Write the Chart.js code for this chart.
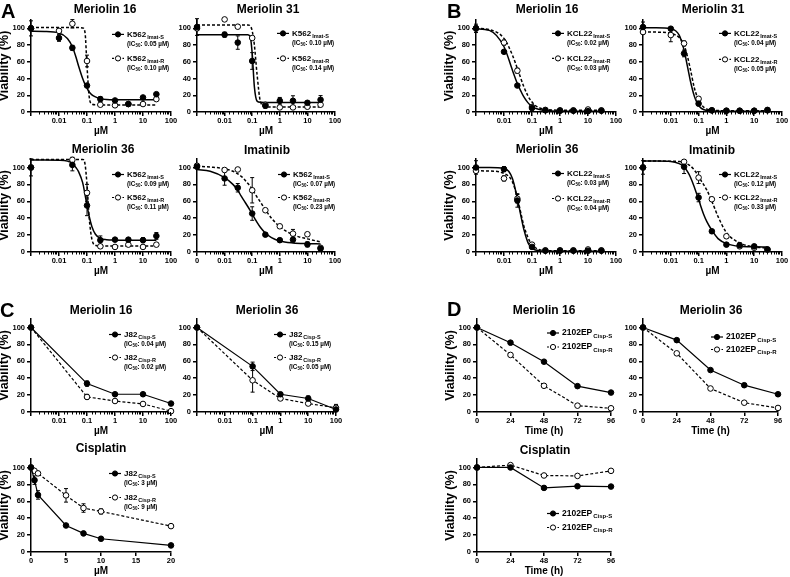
<!DOCTYPE html>
<html>
<head>
<meta charset="utf-8">
<script src="https://cdn.jsdelivr.net/npm/chart.js@4.4.0/dist/chart.umd.min.js"></script>
<style>
  body { margin: 0; background: #fff; width: 790px; height: 577px; position: relative; overflow: hidden;
         font-family: "Liberation Sans", Arial, sans-serif; font-weight: bold; color: #000; }
  canvas { position: absolute; }
  .t { position: absolute; white-space: nowrap; transform: translate(-50%, -50%); font-size: 12px; }
  .p { position: absolute; font-size: 20px; line-height: 20px; }
</style>
</head>
<body>
<script>
// ---------- data ----------
// panels A/B: concentrations in µM (0.001 = untreated control)
const doses = [0.001, 0.01, 0.03, 0.1, 0.3, 1, 3, 10, 30];
// x positions where the fitted curves were read
const fitDoses = [0.001, 0.003, 0.01, 0.02, 0.03, 0.04, 0.05, 0.07, 0.085, 0.1, 0.12, 0.15, 0.2, 0.3, 0.5, 1, 3, 10, 30];

// A - K562
const aM16S = [100, 88.5, 76.7, 31.6, 15.4, 13.8, 9.5, 17.4, 21.3];
const aM16SErr = [9, 4, 3, 2, 3, 1, 1, 1, 1];
const aM16R = [100, 97, 105.5, 61, 8.7, 8, 9.5, 9.5, 15.4];
const aM16RErr = [3, 1, 5, 7, 1, 2, 1, 1, 1];
const aM16FitS = [96.5, 96.3, 94.5, 88, 78, 66, 55, 40, 33, 28.5, 24, 20.5, 18, 16, 15, 14.6, 14.5, 14.5, 14.5];
const aM16FitR = [101, 101, 101, 101, 101, 101, 101, 100.5, 95, 55, 18, 9.5, 8.6, 8.5, 8.5, 8.5, 8.5, 8.5, 8.5];

const aM31S = [101.6, 92.5, 83, 61, 7.5, 13.4, 13.4, 11, 14.6];
const aM31SErr = [10, 3, 8, 10, 3, 4, 6, 2, 5];
const aM31R = [100, 110.7, 102, 88.5, 8.7, 5.5, 5.5, 6.3, 8.7];
const aM31RErr = [2, 1, 1, 2, 1, 1, 1, 1, 1];
const aM31FitS = [92.5, 92.5, 92.5, 92.5, 92.5, 92.5, 92.5, 92.4, 90, 70, 30, 13, 11.6, 11.5, 11.5, 11.5, 11.5, 11.5, 11.5];
const aM31FitR = [104, 104, 104, 104, 104, 104, 104, 104, 103, 97, 80, 45, 12, 6.5, 6, 6, 6, 6, 6];

const aM36S = [100, null, 103, 55, 14, 14.6, 14.6, 14, 19];
const aM36SErr = [10, 0, 7, 12, 5, 2, 1, 3, 4];
const aM36R = [100, null, 109, 70, 6.7, 6, 8.7, 6, 8.7];
const aM36RErr = [1, 0, 3, 10, 2, 2, 1, 2, 1];
const aM36FitS = [108.7, 108.7, 108.5, 107.5, 105, 100, 95, 82, 68, 55, 42, 30, 21, 16, 14.5, 14, 13.8, 13.8, 13.8];
const aM36FitR = [109.5, 109.5, 109.5, 109.5, 109.5, 109.5, 109.5, 109.5, 104, 80, 40, 15, 8, 7, 7, 7, 7, 7, 7];

const aImS = [100.8, 87, 76, 45.5, 20.5, 14, 14.6, 9, 4];
const aImSErr = [2, 8, 5, 8, 2, 1, 3, 3, 2];
const aImR = [102, 97, 97.6, 73, 49.4, 30.4, 21.7, 21, 5];
const aImRErr = [1, 1, 1, 15, 1, 2, 5, 1, 1];
const aImFitS = [97.5, 95.5, 88, 80, 73, 66, 61, 53.5, 49, 45, 40.5, 35, 29, 22.5, 17, 13, 10.7, 9.9, 9.6];
const aImFitR = [101.5, 100.5, 98.5, 95.5, 92.5, 89.5, 86.5, 81, 77.5, 74, 70, 65, 59, 50, 40, 30, 20.5, 15.5, 12];

// B - KCL22
const bM16S = [100, 72, 31.6, 4.7, 2, 1.5, 1.5, 1, 1.5];
const bM16SErr = [5, 2, 1, 1, 1, 1, 1, 1, 1];
const bM16R = [100, 83, 49.4, 6, 2.5, 2, 2, 3, 2];
const bM16RErr = [3, 3, 3, 1, 1, 1, 1, 1, 1];
const bM16FitS = [99.5, 97.6, 78, 50, 34, 25, 18.6, 11.5, 8.5, 6.7, 5, 3.8, 2.8, 1.8, 1.3, 1, 1, 1, 1];
const bM16FitR = [100, 98.5, 88, 68, 52, 40, 31, 20, 15, 12, 9, 6.5, 4.5, 3.2, 2.5, 2.1, 2, 2, 2];

const bM31S = [101.6, 99.6, 70, 10, 2, 1.5, 1.5, 1.5, 2.5];
const bM31SErr = [6, 2, 4, 2, 1, 1, 1, 1, 1];
const bM31R = [95.6, 92, 82, 15.8, 2, 1.5, 1.5, 1.5, 2];
const bM31RErr = [2, 8, 3, 2, 1, 1, 1, 1, 1];
const bM31FitS = [100.8, 100.8, 99.5, 92, 74, 54, 38, 19, 12, 8, 5, 3, 1.8, 1.2, 1, 1, 1, 1, 1];
const bM31FitR = [95.6, 95.5, 94, 89, 80, 66, 52, 29, 20, 14.6, 9.5, 6, 3.5, 2.2, 1.7, 1.5, 1.5, 1.5, 1.5];

const bM36S = [100, 98, 61, 6, 1.5, 1.5, 1.5, 1.5, 1.5];
const bM36SErr = [8, 3, 8, 1, 1, 1, 1, 1, 1];
const bM36R = [96, 87, 63, 8.7, 2, 2, 2, 3, 2];
const bM36RErr = [2, 3, 5, 2, 1, 1, 1, 1, 1];
const bM36FitS = [100, 100, 99, 87, 63, 43, 28, 12, 7, 4.5, 3, 2, 1.3, 1, 1, 1, 1, 1, 1];
const bM36FitR = [96, 95.8, 93, 83, 64, 46, 32, 18, 12, 9, 6, 4, 2.5, 1.8, 1.5, 1.5, 1.5, 1.5, 1.5];

const bImS = [100, null, 100.8, 64.4, 24.5, 8.7, 8, 6.7, 3];
const bImSErr = [8, 0, 8, 5, 2, 1, 3, 1, 1];
const bImR = [100, null, 106.7, 88, 62.4, 18.6, 6.7, 5, 3];
const bImRErr = [2, 0, 1, 7, 1, 2, 1, 1, 1];
const bImFitS = [107.5, 107.5, 107, 104.5, 101, 95, 89, 77, 69, 63, 54, 45, 35.6, 25.7, 15.8, 9.9, 6.7, 6.1, 6];
const bImFitR = [107.5, 107.5, 107.4, 107, 106, 104, 102, 97, 93, 90, 85, 80, 73, 60, 42, 23, 10.7, 6, 4.7];

// C - J82
const cDoses = [0.001, 0.1, 1, 10, 100];
const cM16S = [100, 33.6, 21, 21, 10];
const cM16SErr = [0, 3, 1, 1, 1];
const cM16R = [100, 17.8, 13, 9.5, 1];
const cM16RErr = [0, 3, 2, 1, 1];
const cM36S = [100, 54, 21, 16, 3];
const cM36SErr = [0, 5, 2, 3, 1];
const cM36R = [100, 37.5, 16, 10, 5];
const cM36RErr = [0, 14, 2, 2, 4];
const cisDoses = [0, 0.5, 1, 5, 7.5, 10, 20];
const cCisS = [100, 85, 67.5, 31.4, 22, 15.7, 7.8];
const cCisSErr = [0, 5, 5, 1, 1, 2, 0];
const cCisR = [100, 96, 93, 67, 52, 48, 30.6];
const cCisRErr = [0, 1, 1, 8, 5, 3, 2];

// D - 2102EP, time course
const hours = [0, 24, 48, 72, 96];
const dM16S = [100, 82, 59.5, 30.6, 23];
const dM16R = [100, 67.5, 31, 7.5, 4.4];
const dM36S = [100, 85, 49.6, 31.7, 21];
const dM36R = [100, 69.4, 27.8, 11, 4.8];
const dCisS = [100, 100, 75.8, 77.8, 77.4];
const dCisR = [100, 102.8, 90.5, 90, 96];

// ---------- drawing ----------
const FONT = '"Liberation Sans", Arial, sans-serif';
Chart.defaults.font.family = FONT;
Chart.defaults.color = '#000';
const PL = 36, PT = 8, PR = 10, PB = 26;

function isMajor(v) {
  const l = Math.log10(v);
  return Math.abs(l - Math.round(l)) < 1e-6;
}

function series(xs, ys, errs, filled, joined) {
  const keep = ys.map(v => v !== null);
  return {
    data: xs.map((x, i) => ({ x: x, y: ys[i] })).filter((p, i) => keep[i]),
    errorBars: errs ? errs.filter((e, i) => keep[i]) : null,
    showLine: joined,
    borderColor: '#000',
    borderWidth: 1.2,
    borderDash: filled ? [] : [3, 2],
    pointRadius: 2.8,
    pointBorderWidth: 1,
    pointBackgroundColor: filled ? '#000' : '#fff',
    pointBorderColor: '#000',
    clip: false
  };
}

function fit(ys, dashed) {
  return {
    data: fitDoses.map((x, i) => ({ x: x, y: ys[i] })),
    showLine: true,
    pointRadius: 0,
    borderColor: '#000',
    borderWidth: 1.5,
    borderDash: dashed ? [3, 2] : [],
    cubicInterpolationMode: 'monotone',
    clip: false
  };
}

const errorBars = {
  id: 'errorBars',
  beforeDatasetsDraw(chart) {
    const ctx = chart.ctx, sx = chart.scales.x, sy = chart.scales.y;
    ctx.save();
    ctx.strokeStyle = '#000';
    ctx.lineWidth = 1;
    chart.data.datasets.forEach(ds => {
      if (!ds.errorBars) return;
      ds.data.forEach((p, i) => {
        const e = ds.errorBars[i];
        if (!e) return;
        const px = sx.getPixelForValue(p.x);
        const y1 = sy.getPixelForValue(p.y + e), y2 = sy.getPixelForValue(p.y - e);
        ctx.beginPath();
        ctx.moveTo(px, y1); ctx.lineTo(px, y2);
        ctx.moveTo(px - 2, y1); ctx.lineTo(px + 2, y1);
        ctx.moveTo(px - 2, y2); ctx.lineTo(px + 2, y2);
        ctx.stroke();
      });
    });
    ctx.restore();
  }
};

// short minor ticks on the log axes
const minorTicks = {
  id: 'minorTicks',
  afterDraw(chart) {
    const sc = chart.scales.x;
    if (sc.type !== 'logarithmic') return;
    const ctx = chart.ctx;
    ctx.save();
    ctx.strokeStyle = '#000';
    ctx.lineWidth = 1;
    ctx.beginPath();
    sc.ticks.forEach(t => {
      if (isMajor(t.value)) return;
      const px = Math.round(sc.getPixelForValue(t.value)) + 0.5;
      ctx.moveTo(px, sc.top);
      ctx.lineTo(px, sc.top + 2.5);
    });
    ctx.stroke();
    ctx.restore();
  }
};

const prismLegend = {
  id: 'prismLegend',
  afterDraw(chart, args, o) {
    if (!o.items) return;
    const ctx = chart.ctx;
    ctx.save();
    o.items.forEach((it, i) => {
      const mx = o.x - o.ox, y = o.y - o.oy + i * o.gap;
      ctx.strokeStyle = '#000';
      ctx.lineWidth = 1.2;
      ctx.setLineDash(it.filled ? [] : [2, 1.5]);
      ctx.beginPath(); ctx.moveTo(mx - 6, y); ctx.lineTo(mx + 6, y); ctx.stroke();
      ctx.setLineDash([]);
      ctx.beginPath(); ctx.arc(mx, y, 2.6, 0, Math.PI * 2);
      ctx.fillStyle = it.filled ? '#000' : '#fff';
      ctx.fill(); ctx.lineWidth = 1; ctx.stroke();

      ctx.fillStyle = '#000';
      ctx.textBaseline = 'middle';
      ctx.textAlign = 'left';
      let tx = mx + 9;
      ctx.font = 'bold ' + o.size + 'px ' + FONT;
      ctx.fillText(it.name, tx, y);
      tx += ctx.measureText(it.name).width + 1;
      ctx.font = 'bold ' + o.sub + 'px ' + FONT;
      ctx.fillText(it.sub, tx, y + o.size * 0.35);
      if (it.ic) {
        const iy = y + 9.5;
        let ix = mx + 9;
        const f1 = 'bold 6.3px ' + FONT, f2 = 'bold 4.5px ' + FONT;
        ctx.font = f1; ctx.fillText('(IC', ix, iy); ix += ctx.measureText('(IC').width;
        ctx.font = f2; ctx.fillText('50', ix, iy + 1.8); ix += ctx.measureText('50').width;
        ctx.font = f1; ctx.fillText(': ' + it.ic + ')', ix, iy);
      }
    });
    ctx.restore();
  }
};

function logLabel(zero) {
  return function (v) {
    if (!isMajor(v)) return '';
    const e = Math.round(Math.log10(v));
    if (e <= -3) return zero ? '0' : '';
    return e < 0 ? v.toFixed(-e) : String(Math.round(Math.pow(10, e)));
  };
}

function plot(box, datasets, xOpt, legend, yTitle) {
  const [l, r, t, b] = box;
  const cv = document.createElement('canvas');
  const w = r - l + PL + PR, h = b - t + PT + PB;
  const ox = l - PL, oy = t - PT;
  cv.width = w; cv.height = h;
  cv.style.left = ox + 'px'; cv.style.top = oy + 'px';
  document.body.appendChild(cv);

  const tickFont = { size: 7.5, weight: 'bold', family: FONT };
  const x = Object.assign({
    afterFit: s => { s.height = PB; s.paddingLeft = 0; s.paddingRight = 0; },
    border: { color: '#000', width: 1.5 },
    grid: {
      drawOnChartArea: false, tickLength: 4, lineWidth: 1.5,
      color: c => (c.tick && xOpt.type === 'logarithmic' && !isMajor(c.tick.value)) ? 'rgba(0,0,0,0)' : '#000'
    },
    title: { display: true, text: xOpt.label, color: '#000',
             font: { size: 10, weight: 'bold', family: FONT }, padding: { top: 0, bottom: 1 } }
  }, xOpt.scale);
  x.ticks = Object.assign({ autoSkip: false, maxRotation: 0, padding: 0, color: '#000', font: tickFont }, xOpt.scale.ticks);

  new Chart(cv, {
    type: 'line',
    data: { datasets: datasets },
    options: {
      responsive: false, animation: false, devicePixelRatio: 1,
      layout: { padding: { left: 0, top: PT, right: PR, bottom: 0 } },
      plugins: {
        legend: { display: false }, tooltip: { enabled: false },
        prismLegend: Object.assign({ ox: ox, oy: oy }, legend)
      },
      scales: {
        x: x,
        y: {
          min: 0, max: 110,
          afterFit: s => { s.width = PL; s.paddingTop = 0; s.paddingBottom = 0; },
          afterBuildTicks: s => { s.ticks = s.ticks.filter(k => k.value <= 100); },
          border: { color: '#000', width: 1.5 },
          grid: { drawOnChartArea: false, tickLength: 4, lineWidth: 1.5, color: '#000' },
          ticks: { stepSize: 20, padding: 2, color: '#000', font: tickFont },
          title: { display: yTitle, text: 'Viability (%)', color: '#000',
                   font: { size: 12.5, weight: 'bold', family: FONT }, padding: { top: 2, bottom: 0 } }
        }
      }
    },
    plugins: [errorBars, minorTicks, prismLegend]
  });
}

const logX = zero => ({ type: 'logarithmic', label: 'µM',
  scale: { type: 'logarithmic', min: 0.001, max: 100, ticks: { callback: logLabel(zero) } } });
const cisX = { type: 'linear', label: 'µM', scale: { type: 'linear', min: 0, max: 20, ticks: { stepSize: 5 } } };
const timeX = { type: 'linear', label: 'Time (h)', scale: { type: 'linear', min: 0, max: 96, ticks: { stepSize: 24 } } };

function doseSets(s, sErr, r, rErr, fitS, fitR) {
  return [series(doses, s, sErr, true, false), series(doses, r, rErr, false, false), fit(fitS, false), fit(fitR, true)];
}
function lg(x, y, gap, name, subS, subR, icS, icR, size) {
  return { x: x, y: y, gap: gap, size: size || 8, sub: size ? 6 : 5.5,
    items: [{ name: name, sub: subS, ic: icS, filled: true }, { name: name, sub: subR, ic: icR, filled: false }] };
}

// A
plot([31, 171, 19.6, 112], doseSets(aM16S, aM16SErr, aM16R, aM16RErr, aM16FitS, aM16FitR), logX(false),
     lg(118, 34, 24, 'K562', 'Imat-S', 'Imat-R', '0.05 µM', '0.10 µM'), true);
plot([197, 335, 19.6, 112], doseSets(aM31S, aM31SErr, aM31R, aM31RErr, aM31FitS, aM31FitR), logX(false),
     lg(283, 33, 25, 'K562', 'Imat-S', 'Imat-R', '0.10 µM', '0.14 µM'), false);
plot([31, 171, 158.5, 252], doseSets(aM36S, aM36SErr, aM36R, aM36RErr, aM36FitS, aM36FitR), logX(false),
     lg(118, 174, 23, 'K562', 'Imat-S', 'Imat-R', '0.09 µM', '0.11 µM'), true);
plot([197, 335, 158.5, 252], doseSets(aImS, aImSErr, aImR, aImRErr, aImFitS, aImFitR), logX(true),
     lg(284, 174, 23, 'K562', 'Imat-S', 'Imat-R', '0.07 µM', '0.23 µM'), false);
// B
plot([476, 616, 19.6, 112], doseSets(bM16S, bM16SErr, bM16R, bM16RErr, bM16FitS, bM16FitR), logX(false),
     lg(558, 33, 25, 'KCL22', 'Imat-S', 'Imat-R', '0.02 µM', '0.03 µM'), true);
plot([643, 782, 19.6, 112], doseSets(bM31S, bM31SErr, bM31R, bM31RErr, bM31FitS, bM31FitR), logX(false),
     lg(725, 33, 26, 'KCL22', 'Imat-S', 'Imat-R', '0.04 µM', '0.05 µM'), false);
plot([476, 616, 158.5, 252], doseSets(bM36S, bM36SErr, bM36R, bM36RErr, bM36FitS, bM36FitR), logX(false),
     lg(558, 173, 25, 'KCL22', 'Imat-S', 'Imat-R', '0.03 µM', '0.04 µM'), true);
plot([643, 782, 158.5, 252], doseSets(bImS, bImSErr, bImR, bImRErr, bImFitS, bImFitR), logX(false),
     lg(725, 174, 23, 'KCL22', 'Imat-S', 'Imat-R', '0.12 µM', '0.33 µM'), false);
// C
plot([31, 171, 318.5, 412], [series(cDoses, cM16S, cM16SErr, true, true), series(cDoses, cM16R, cM16RErr, false, true)],
     logX(false), lg(115, 334, 23, 'J82', 'Cisp-S', 'Cisp-R', '0.04 µM', '0.02 µM'), true);
plot([197, 336, 318.5, 412], [series(cDoses, cM36S, cM36SErr, true, true), series(cDoses, cM36R, cM36RErr, false, true)],
     logX(false), lg(280, 334, 23, 'J82', 'Cisp-S', 'Cisp-R', '0.15 µM', '0.05 µM'), false);
plot([31, 171, 458.5, 552], [series(cisDoses, cCisS, cCisSErr, true, true), series(cisDoses, cCisR, cCisRErr, false, true)],
     cisX, lg(115, 473, 24, 'J82', 'Cisp-S', 'Cisp-R', '3 µM', '9 µM'), true);
// D
plot([477, 611, 319, 412], [series(hours, dM16S, null, true, true), series(hours, dM16R, null, false, true)],
     timeX, lg(553, 333, 14, '2102EP', 'Cisp-S', 'Cisp-R', null, null, 8.5), true);
plot([643, 778, 319, 412], [series(hours, dM36S, null, true, true), series(hours, dM36R, null, false, true)],
     timeX, lg(717, 337, 12.5, '2102EP', 'Cisp-S', 'Cisp-R', null, null, 8.5), false);
plot([477, 611, 458.5, 552], [series(hours, dCisS, null, true, true), series(hours, dCisR, null, false, true)],
     timeX, lg(553, 513, 14, '2102EP', 'Cisp-S', 'Cisp-R', null, null, 8.5), true);

// titles and panel letters
const titles = [
  ['Meriolin 16', 105, 9], ['Meriolin 31', 268, 9], ['Meriolin 36', 103, 149], ['Imatinib', 267, 150],
  ['Meriolin 16', 547, 9], ['Meriolin 31', 713, 9], ['Meriolin 36', 547, 149], ['Imatinib', 712, 150],
  ['Meriolin 16', 101, 310], ['Meriolin 36', 267, 310], ['Cisplatin', 101, 448],
  ['Meriolin 16', 544, 310], ['Meriolin 36', 711, 310], ['Cisplatin', 545, 450]
];
titles.forEach(([txt, cx, cy]) => {
  const d = document.createElement('div');
  d.className = 't'; d.textContent = txt;
  d.style.left = cx + 'px'; d.style.top = cy + 'px';
  document.body.appendChild(d);
});
[['A', 1, 1], ['B', 447, 1], ['C', 0, 300], ['D', 447, 299]].forEach(([txt, x, y]) => {
  const d = document.createElement('div');
  d.className = 'p'; d.textContent = txt;
  d.style.left = x + 'px'; d.style.top = y + 'px';
  document.body.appendChild(d);
});
</script>
</body>
</html>
